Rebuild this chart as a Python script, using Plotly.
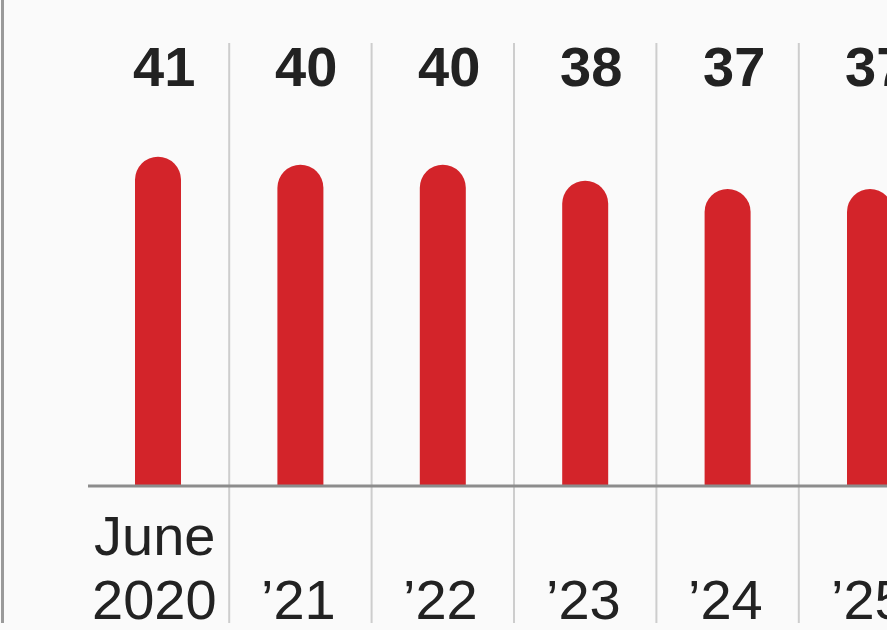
import plotly.graph_objects as go

# Data
label_top = ["June", "", "", "", "", ""]
label_bottom = ["2020", "\u201921", "\u201922", "\u201923", "\u201924", "\u201925"]
values = [41, 40, 40, 38, 37, 37]

BAR_COLOR = "#d3242a"
TEXT_COLOR = "#222222"
BG = "#fafafa"
W, H = 887, 630

# pixel geometry of the canvas
x0_px, step_px = 158.0, 142.4   # centre of first bar, spacing between bars
base_px, unit_px = 486.0, 8.03  # baseline row, pixels per unit

def px_to_x(p):
    return (p - x0_px) / step_px

def py_paper(p):
    return 1 - p / H

xs = list(range(len(values)))

fig = go.Figure()
fig.add_trace(go.Bar(
    x=xs, y=values,
    width=46 / step_px,
    marker=dict(color=BAR_COLOR, line=dict(width=0)),
    hoverinfo="skip",
))

shapes = []
# column separators
for i in range(len(values) - 1):
    shapes.append(dict(type="line", xref="x", yref="paper",
                       x0=i + 0.5, x1=i + 0.5,
                       y0=py_paper(623), y1=py_paper(43),
                       line=dict(color="#cdcdcd", width=2), layer="below"))
# baseline
shapes.append(dict(type="line", xref="x", yref="y",
                   x0=px_to_x(88), x1=px_to_x(W + 10), y0=0, y1=0,
                   line=dict(color="#8c8c8c", width=3), layer="above"))
# left frame rule
shapes.append(dict(type="line", xref="paper", yref="paper",
                   x0=2.5 / W, x1=2.5 / W, y0=py_paper(623), y1=1,
                   line=dict(color="#9a9a9a", width=3), layer="above"))

annotations = []
for x, v, t, b in zip(xs, values, label_top, label_bottom):
    annotations.append(dict(x=x, y=py_paper(67), xref="x", yref="paper",
                            text=f"<b>{v}</b>", showarrow=False,
                            xanchor="center", yanchor="middle", xshift=6,
                            font=dict(family="Liberation Sans", size=56,
                                      color=TEXT_COLOR)))
    shift = -4 if t else -2
    if t:
        annotations.append(dict(x=x, y=py_paper(535), xref="x", yref="paper",
                                text=t, showarrow=False, xshift=shift,
                                xanchor="center", yanchor="middle",
                                font=dict(family="Liberation Sans", size=56,
                                          color=TEXT_COLOR)))
    annotations.append(dict(x=x, y=py_paper(599), xref="x", yref="paper",
                            text=b, showarrow=False, xshift=shift,
                            xanchor="center", yanchor="middle",
                            font=dict(family="Liberation Sans", size=56,
                                      color=TEXT_COLOR)))

fig.update_layout(
    width=W, height=H,
    margin=dict(l=0, r=0, t=0, b=0),
    paper_bgcolor=BG, plot_bgcolor=BG,
    showlegend=False,
    barcornerradius="50%",
    xaxis=dict(range=[px_to_x(0), px_to_x(W)], visible=False, fixedrange=True),
    yaxis=dict(range=[(base_px - H) / unit_px, base_px / unit_px],
               visible=False, fixedrange=True),
    shapes=shapes,
    annotations=annotations,
)

fig.write_html("out.html", config={"displayModeBar": False})
